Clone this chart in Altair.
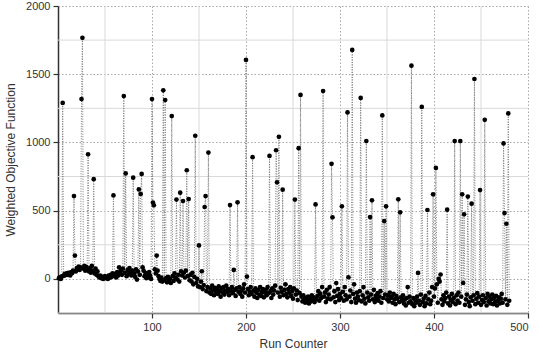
import altair as alt
import pandas as pd

# Weighted objective function values, one per run (run counter 1..480)
objective = [
    5, 12, 0, 18, 1290, 22, 35, 28, 40, 30, 45, 38, 25, 50, 42, 60, 607, 171, 55, 80,
    70, 90, 65, 85, 1318, 1767, 75, 95, 60, 88, 70, 913, 55, 80, 45, 95, 60, 731, 40, 75,
    30, 55, 20, 10, 25, 5, 15, 0, 10, 20, 5, 12, 0, 25, 8, 30, 15, 40, 612, 20,
    35, 10, 50, 25, 85, 40, 60, 30, 75, 1340, 45, 773, 20, 65, 35, 80, 50, 25, 60, 742,
    40, 15, 70, -5, 55, 656, 30, 622, 769, 85, 60, 20, 45, 5, 30, 10, 50, 25, 0, 1318,
    559, 539, 70, 40, 171, 60, 20, 0, -15, 10, -20, 1382, -10, 1311, 5, -25, 15, -20, 0, -30,
    1193, 20, -15, 40, 10, 581, -5, 30, -20, 632, 55, 25, 571, 45, 10, 60, 796, 20, 585, -10,
    30, -20, 45, -40, 15, 1049, -30, 0, -55, 245, -60, -20, 56, -75, -45, 527, 607, -90, -60, 926,
    -100, -70, -110, -50, -85, -120, -65, -95, -75, -110, -55, -90, -130, -70, -100, -60, -115, -85, -50, -95,
    -75, -120, 541, -90, -60, -105, 66, -80, -125, -70, 561, -95, -60, -110, -85, -130, -70, -40, -100, 1605,
    17, -75, -120, -95, -60, -110, 892, -85, -130, -70, -100, -140, -80, -115, -60, -125, -95, -75, -135, -100,
    -80, -120, -60, -105, 901, -90, -140, -70, -115, -85, -50, 943, 708, -100, 1041, -130, -65, -95, 654, -120,
    -80, -40, -110, -135, -75, -100, -60, -125, -90, -145, -70, 581, -115, -85, -155, 958, -105, 1348, -130, -165,
    -120, -150, -175, -140, -160, -130, -180, -145, -165, -120, -155, -135, -170, 546, -150, -125, -90, -160, -110, -140,
    -60, 1377, -130, -100, -170, -80, -145, -115, -60, -150, 843, 451, -135, -90, -170, -30, -125, -75, -155, -110,
    -140, 532, -95, -160, -60, -120, -150, 1220, 12, -130, -85, -170, 1678, -110, -40, -145, -175, -100, -130, -155,
    -90, 1326, -165, -120, -60, -145, -180, 1010, -100, -135, -160, 453, -115, 576, -150, -80, -170, -125, -145, -105,
    -160, -130, -90, -175, 1198, -140, 424, -115, 532, -150, -120, -165, -100, -140, -130, -175, -110, -150, -185, -125,
    -145, 583, -170, 488, -135, -160, -120, -180, -150, -195, -140, -60, -175, -130, -165, 1563, -185, -140, -200, -155,
    -175, -130, 44, -160, -190, -115, 1260, -170, -145, -200, -125, -180, 505, -150, -100, -185, -160, -60, 620, -130,
    -70, 813, -40, -175, 0, -20, 32, -150, -190, -120, -165, -140, -100, 507, -180, -130, -195, -155, -110, -170,
    -140, 1010, -185, -120, -160, -100, -175, 1010, -130, 620, -30, 473, -190, -150, -115, 603, -170, -200, -135, 551,
    -160, -120, 1465, -185, -145, -105, -175, -130, 651, -190, -155, -120, -170, 1166, -140, -195, -110, -165, -130, -180,
    -150, -115, -185, -140, -170, -125, -195, -160, -135, -180, -145, -110, -175, 993, 482, -150, 404, -190, 1213, -160,
]
run_counter = list(range(1, len(objective) + 1))

x_major = [100, 200, 300, 400, 500]
x_minor = [50, 150, 250, 350, 450]
y_major = [0, 500, 1000, 1500, 2000]
y_minor = [-250, 250, 750, 1250, 1750]

df = pd.DataFrame({"run": run_counter, "obj": objective})

FONT = "Liberation Sans"
xs = alt.Scale(domain=[0, 500], nice=False, zero=False)
ys = alt.Scale(domain=[-250, 2000], nice=False, zero=False)

minor_v = alt.Chart(pd.DataFrame({"v": x_minor})).mark_rule(
    color="#d9d9d9", strokeWidth=1
).encode(x=alt.X("v:Q", scale=xs))
minor_h = alt.Chart(pd.DataFrame({"v": y_minor})).mark_rule(
    color="#d9d9d9", strokeWidth=1
).encode(y=alt.Y("v:Q", scale=ys))

base = alt.Chart(df)
line = base.mark_line(color="#7a7a7a", strokeWidth=1, strokeDash=[1, 1.5]).encode(
    x=alt.X(
        "run:Q",
        scale=xs,
        title="Run Counter",
        axis=alt.Axis(values=x_major, format="d", grid=True, gridDash=[1.5, 2], gridColor="#a8a8a8"),
    ),
    y=alt.Y(
        "obj:Q",
        scale=ys,
        title="Weighted Objective Function",
        axis=alt.Axis(values=y_major, format="d", grid=True, gridDash=[1.5, 2], gridColor="#a8a8a8"),
    ),
)
pts = base.mark_circle(color="#000000", size=22, opacity=1).encode(
    x="run:Q", y="obj:Q"
)

chart = (
    alt.layer(minor_v, minor_h, line, pts)
    .properties(
        width=470,
        height=307,
        padding={"left": 58, "top": 6, "right": 11, "bottom": 42},
        autosize=alt.AutoSizeParams(type="none"),
        background="white",
    )
    .configure_view(stroke=None)
    .configure_axis(
        labelFont=FONT,
        titleFont=FONT,
        labelFontSize=11,
        titleFontSize=12,
        titleFontWeight="normal",
        labelColor="#333333",
        titleColor="#333333",
        domainColor="#333333",
        domainWidth=1.5,
        tickColor="#333333",
        tickSize=5,
        tickWidth=1.2,
    )
    .configure_axisX(titlePadding=6, labelPadding=3)
    .configure_axisY(titlePadding=8, labelPadding=3)
)

chart.save("out.html", embed_options={"renderer": "svg", "actions": False})
